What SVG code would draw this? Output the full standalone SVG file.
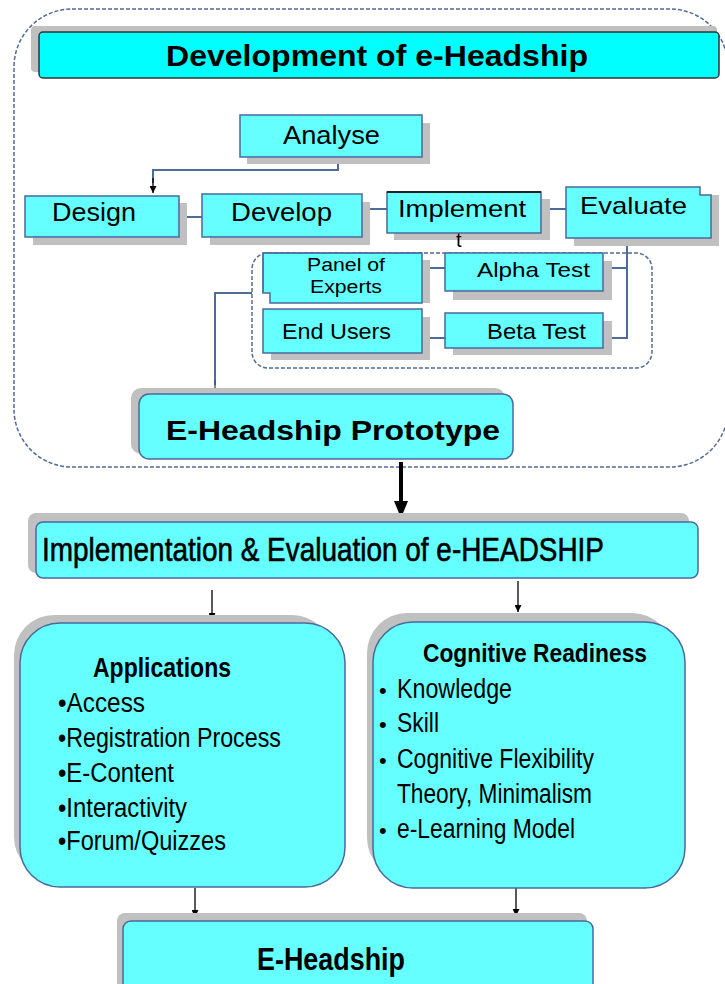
<svg xmlns="http://www.w3.org/2000/svg" width="725" height="984" viewBox="0 0 725 984">
<defs>
<style>
.box{fill:#66FFFF;stroke:#4A6A9A;stroke-width:1.5}
.title{fill:#00FFFF;stroke:#333;stroke-width:1.5}
.sh{fill:#C0C0C0}
.t{font-family:"Liberation Sans",Arial,sans-serif;fill:#000}
.b{font-weight:bold}
.conn{stroke:#4F6B98;stroke-width:2;fill:none}
.arr{stroke:#000;stroke-width:1.3;fill:none}
.dash{fill:none;stroke:#4F6B98;stroke-width:1.5;stroke-dasharray:4 2}
</style>
<marker id="ah" viewBox="0 0 10 10" refX="10" refY="5" markerWidth="7" markerHeight="7" markerUnits="userSpaceOnUse" orient="auto">
<path d="M0,0 L10,5 L0,10 Z" fill="#000"/>
</marker>
<marker id="ahb" viewBox="0 0 10 10" refX="10" refY="5" markerWidth="7" markerHeight="7" markerUnits="userSpaceOnUse" orient="auto">
<path d="M0,0 L10,5 L0,10 Z" fill="#3F5A85"/>
</marker>
</defs>
<rect width="725" height="984" fill="#fff"/>

<!-- containers -->
<g id="outer-frame"><rect class="dash" x="14" y="9" width="714" height="458" rx="58"/></g>
<g id="test-frame"><rect class="dash" x="252" y="253" width="400" height="115" rx="16"/></g>

<g id="connectors">
<polyline class="conn" points="338,157 338,170 153,170 153,183"/>
<line class="arr" x1="153" y1="178" x2="153" y2="193" marker-end="url(#ah)"/>
<line class="conn" x1="179" y1="217" x2="202" y2="217"/>
<line class="conn" x1="362" y1="209" x2="387" y2="209"/>
<line class="conn" x1="541" y1="209" x2="567" y2="209"/>
<line class="conn" x1="422" y1="268" x2="445" y2="268"/>
<line class="conn" x1="422" y1="338" x2="445" y2="338"/>
<polyline class="conn" points="603,268 627,268"/>
<polyline class="conn" points="603,338 627,338 627,238"/>
<polyline class="conn" points="252,293 215,293 215,385" />
<line x1="215" y1="380" x2="215" y2="396" stroke="#3F5A85" stroke-width="1.5" marker-end="url(#ahb)"/>
<line x1="401" y1="462" x2="401" y2="503" stroke="#000" stroke-width="4"/>
<polygon points="394,501 408,501 401,518" fill="#000"/>
<line class="arr" x1="212" y1="590" x2="212" y2="620" marker-end="url(#ah)"/>
<line class="arr" x1="518" y1="581" x2="518" y2="612" marker-end="url(#ah)"/>
<line class="arr" x1="195" y1="888" x2="195" y2="917" marker-end="url(#ah)" stroke="#777"/>
<line class="arr" x1="516" y1="885" x2="516" y2="916" marker-end="url(#ah)"/>
</g>

<g id="title">
<rect class="sh" x="31" y="26" width="686" height="46" rx="4"/>
<rect class="title" x="39" y="32" width="680" height="46" rx="4"/>
<text class="t b" x="166" y="66" font-size="30" textLength="422" lengthAdjust="spacingAndGlyphs">Development of e-Headship</text>
</g>

<g id="analyse">
<rect class="sh" x="247" y="123" width="183" height="41"/>
<rect class="box" x="240" y="115" width="182" height="42"/>
<text class="t" x="283" y="144" font-size="25" textLength="97" lengthAdjust="spacingAndGlyphs">Analyse</text>
</g>
<g id="design">
<rect class="sh" x="33" y="203" width="154" height="42"/>
<rect class="box" x="25" y="196" width="154" height="41"/>
<text class="t" x="52" y="221" font-size="25" textLength="84" lengthAdjust="spacingAndGlyphs">Design</text>
</g>
<g id="develop">
<rect class="sh" x="210" y="202" width="160" height="43"/>
<rect class="box" x="202" y="194" width="160" height="43"/>
<text class="t" x="231" y="221" font-size="25" textLength="101" lengthAdjust="spacingAndGlyphs">Develop</text>
</g>
<g id="implement">
<rect class="sh" x="394" y="199" width="156" height="41"/>
<rect class="box" x="387" y="192" width="154" height="41"/>
<line x1="387" y1="192" x2="541" y2="192" stroke="#222" stroke-width="2"/>
<text class="t" x="398" y="217" font-size="24" textLength="128" lengthAdjust="spacingAndGlyphs">Implement</text>
<text class="t" x="456" y="247" font-size="20">t</text>
</g>
<g id="evaluate">
<rect class="sh" x="574" y="195" width="145" height="51"/>
<polygon class="box" points="566,187 700,187 700,195 711,195 711,238 566,238"/>
<text class="t" x="580" y="214" font-size="24" textLength="107" lengthAdjust="spacingAndGlyphs">Evaluate</text>
</g>

<g id="panel-of-experts">
<rect class="sh" x="422" y="260" width="8" height="43"/>
<polygon class="box" points="263,253 422,253 422,303 270,303 270,293 263,293" stroke="none"/>
<polyline points="263,293 263,253 422,253" fill="none" stroke="#4A6A9A" stroke-width="1.2"/>
<text class="t" x="307" y="271" font-size="18" textLength="78" lengthAdjust="spacingAndGlyphs">Panel of</text>
<text class="t" x="310" y="293" font-size="18" textLength="72" lengthAdjust="spacingAndGlyphs">Experts</text>
</g>
<g id="alpha-test">
<rect class="sh" x="453" y="261" width="159" height="39"/>
<rect class="box" x="445" y="253" width="158" height="38"/>
<text class="t" x="477" y="277" font-size="21" textLength="113" lengthAdjust="spacingAndGlyphs">Alpha Test</text>
</g>
<g id="end-users">
<rect class="sh" x="271" y="317" width="159" height="43"/>
<rect class="box" x="263" y="309" width="159" height="44"/>
<text class="t" x="282" y="339" font-size="22" textLength="109" lengthAdjust="spacingAndGlyphs">End Users</text>
</g>
<g id="beta-test">
<rect class="sh" x="453" y="321" width="159" height="34"/>
<rect class="box" x="445" y="313" width="158" height="35"/>
<text class="t" x="487" y="339" font-size="22" textLength="99" lengthAdjust="spacingAndGlyphs">Beta Test</text>
</g>

<g id="prototype">
<rect class="sh" x="131" y="388" width="374" height="66" rx="10"/>
<rect class="box" x="139" y="394" width="374" height="65" rx="10"/>
<text class="t b" x="166" y="440" font-size="28" textLength="334" lengthAdjust="spacingAndGlyphs">E-Headship Prototype</text>
</g>

<g id="implementation">
<rect class="sh" x="28" y="513" width="661" height="60" rx="8"/>
<rect class="box" x="36" y="522" width="662" height="56" rx="7"/>
<text class="t" x="42" y="561" font-size="33" stroke="#000" stroke-width="0.6" textLength="562" lengthAdjust="spacingAndGlyphs">Implementation &amp; Evaluation of e-HEADSHIP</text>
</g>

<g id="applications">
<rect class="sh" x="14" y="615" width="318" height="262" rx="40"/>
<rect class="box" x="20" y="623" width="325" height="264" rx="40"/>
<text class="t b" x="93" y="677" font-size="28" textLength="138" lengthAdjust="spacingAndGlyphs">Applications</text>
<text class="t" x="58" y="712" font-size="27" textLength="87" lengthAdjust="spacingAndGlyphs">•Access</text>
<text class="t" x="58" y="747" font-size="27" textLength="223" lengthAdjust="spacingAndGlyphs">•Registration Process</text>
<text class="t" x="58" y="782" font-size="27" textLength="116" lengthAdjust="spacingAndGlyphs">•E-Content</text>
<text class="t" x="58" y="817" font-size="27" textLength="129" lengthAdjust="spacingAndGlyphs">•Interactivity</text>
<text class="t" x="58" y="850" font-size="27" textLength="168" lengthAdjust="spacingAndGlyphs">•Forum/Quizzes</text>
</g>

<g id="cognitive-readiness">
<rect class="sh" x="367" y="613" width="305" height="265" rx="40"/>
<rect class="box" x="373" y="622" width="312" height="266" rx="40"/>
<text class="t b" x="423" y="662" font-size="26" textLength="224" lengthAdjust="spacingAndGlyphs">Cognitive Readiness</text>
<text class="t" x="379" y="698" font-size="22">•</text>
<text class="t" x="397" y="698" font-size="27" textLength="115" lengthAdjust="spacingAndGlyphs">Knowledge</text>
<text class="t" x="379" y="732" font-size="22">•</text>
<text class="t" x="397" y="732" font-size="27" textLength="42" lengthAdjust="spacingAndGlyphs">Skill</text>
<text class="t" x="379" y="768" font-size="22">•</text>
<text class="t" x="397" y="768" font-size="27" textLength="197" lengthAdjust="spacingAndGlyphs">Cognitive Flexibility</text>
<text class="t" x="397" y="803" font-size="27" textLength="195" lengthAdjust="spacingAndGlyphs">Theory, Minimalism</text>
<text class="t" x="379" y="838" font-size="22">•</text>
<text class="t" x="397" y="838" font-size="27" textLength="178" lengthAdjust="spacingAndGlyphs">e-Learning Model</text>
</g>

<g id="e-headship">
<rect class="sh" x="117" y="913" width="470" height="80" rx="8"/>
<rect class="box" x="123" y="921" width="470" height="75" rx="8"/>
<text class="t b" x="257" y="970" font-size="32" textLength="148" lengthAdjust="spacingAndGlyphs">E-Headship</text>
</g>
</svg>
